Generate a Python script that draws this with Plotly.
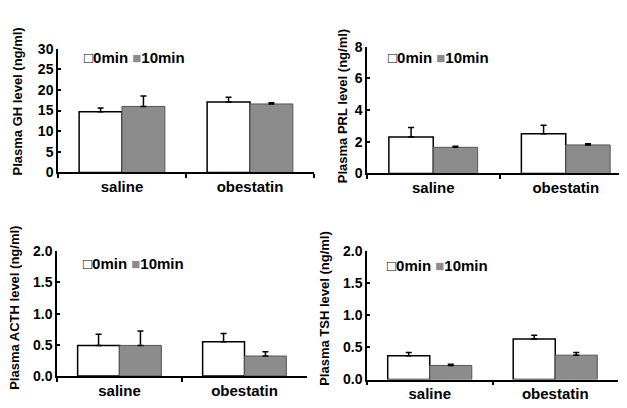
import plotly.graph_objects as go

categories = ["saline", "obestatin"]
series_names = ["0min", "10min"]

gh_0 = [14.7, 17.1]
gh_0_err = [0.9, 1.1]
gh_10 = [16.0, 16.6]
gh_10_err = [2.5, 0.3]

prl_0 = [2.3, 2.5]
prl_0_err = [0.6, 0.55]
prl_10 = [1.65, 1.8]
prl_10_err = [0.07, 0.08]

acth_0 = [0.49, 0.55]
acth_0_err = [0.18, 0.13]
acth_10 = [0.49, 0.32]
acth_10_err = [0.23, 0.07]

tsh_0 = [0.37, 0.63]
tsh_0_err = [0.05, 0.06]
tsh_10 = [0.22, 0.38]
tsh_10_err = [0.02, 0.04]

y_titles = ["Plasma GH level (ng/ml)", "Plasma PRL level (ng/ml)",
            "Plasma ACTH level (ng/ml)", "Plasma TSH level (ng/ml)"]
y_ranges = [[0, 30], [0, 8], [0, 2], [0, 2]]
y_dticks = [5, 2, 0.5, 0.5]
y_formats = ["d", "d", ".1f", ".1f"]

# the page places the figure 8px from the top-left corner of the window
OFF = 8
W, H = 627 - OFF, 408 - OFF
FONT = "Liberation Sans"

# pixel layout of each panel in the window: (x_left, x_right, y_bottom, y_top)
panels_px = [(58, 314, 171, 42), (367, 627, 172, 40),
             (57, 307, 383, 253), (367, 618, 386.7, 253)]
x_ranges = [[-0.5, 1.5], [-0.5, 1.462], [-0.5, 1.5], [-0.5, 1.5]]
legend_px = [(82, 51), (386, 51), (81, 266), (385, 268)]
ytitle_px = [(17, 97), (342, 102), (15, 312), (325, 313)]

data = [(gh_0, gh_0_err, gh_10, gh_10_err),
        (prl_0, prl_0_err, prl_10, prl_10_err),
        (acth_0, acth_0_err, acth_10, acth_10_err),
        (tsh_0, tsh_0_err, tsh_10, tsh_10_err)]


def fx(px):
    return min(max((px - OFF) / W, 0.0), 1.0)


def fy(py):
    return 1 - (py - OFF) / H


fig = go.Figure()
annotations = []
for i, (v0, e0, v10, e10) in enumerate(data):
    n = "" if i == 0 else str(i + 1)
    xa, ya = "x" + n, "y" + n
    fig.add_trace(go.Bar(
        x=categories, y=v0, name=series_names[0], xaxis=xa, yaxis=ya,
        marker=dict(color="white", line=dict(color="black", width=1.5)),
        error_y=dict(type="data", array=e0, arrayminus=[0, 0], symmetric=False,
                     color="black", thickness=1.5, width=3),
        showlegend=False))
    fig.add_trace(go.Bar(
        x=categories, y=v10, name=series_names[1], xaxis=xa, yaxis=ya,
        marker=dict(color="#8c8c8c", line=dict(color="#555555", width=1)),
        error_y=dict(type="data", array=e10, arrayminus=[0, 0], symmetric=False,
                     color="black", thickness=1.5, width=3),
        showlegend=False))

    xl, xr, yb, yt = panels_px[i]
    fig.layout["xaxis" + n] = dict(
        domain=[fx(xl), fx(xr)], anchor=ya, range=x_ranges[i],
        type="category", showline=True, linecolor="black", linewidth=1.5,
        ticks="outside", tickson="boundaries", ticklen=4, tickwidth=1.5,
        tickcolor="black", showgrid=False, zeroline=False,
        tickfont=dict(family=FONT, size=15, color="black", weight="bold"))
    fig.layout["yaxis" + n] = dict(
        domain=[fy(yb), fy(yt)], anchor=xa, range=y_ranges[i],
        dtick=y_dticks[i], tick0=0, tickformat=y_formats[i],
        showline=True, linecolor="black", linewidth=1.5,
        ticks="inside", ticklen=3, tickwidth=1.5, tickcolor="black",
        showgrid=False, zeroline=False,
        tickfont=dict(family=FONT, size=14, color="black", weight="bold"))

    lx, ly = legend_px[i]
    annotations.append(dict(
        xref="paper", yref="paper", x=fx(lx), y=fy(ly),
        xanchor="left", yanchor="middle", showarrow=False,
        text="□" + series_names[0] + " <span style='color:#8c8c8c'>■</span>" + series_names[1],
        font=dict(family=FONT, size=15, color="black", weight="bold")))
    tx, ty = ytitle_px[i]
    annotations.append(dict(
        xref="paper", yref="paper", x=fx(tx), y=fy(ty),
        xanchor="center", yanchor="middle", showarrow=False, textangle=-90,
        text=y_titles[i],
        font=dict(family=FONT, size=13, color="black", weight="bold")))

fig.update_layout(
    width=W, height=H, margin=dict(l=0, r=0, t=0, b=0),
    paper_bgcolor="white", plot_bgcolor="white",
    barmode="group", bargap=0.33, bargroupgap=0,
    annotations=annotations, showlegend=False)

fig.write_html("out.html")
